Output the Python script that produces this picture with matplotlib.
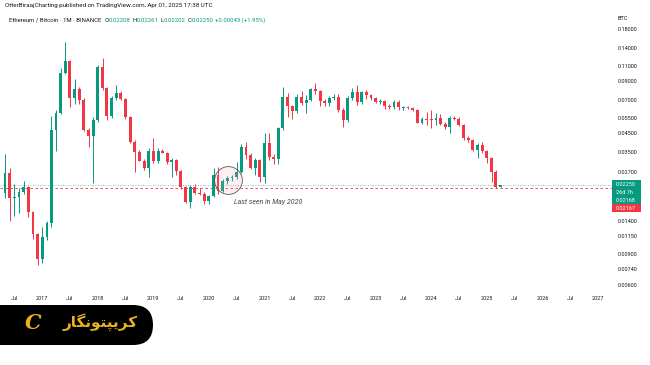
import matplotlib
matplotlib.use('Agg')
import matplotlib.pyplot as plt
import matplotlib.dates as mdates
from matplotlib.patches import FancyBboxPatch, Rectangle
import numpy as np
import pandas as pd

plt.rcParams['font.family'] = ['Roboto', 'DejaVu Sans']

# monthly ETH/BTC candles, May 2016 .. Apr 2025
months = pd.date_range('2016-05-01', periods=108, freq='MS')
opens = [.0203, .0267, .0190, .0193, .0206, .0220, .0158, .0118, .0085, .0114,
         .0137, .0470, .0590, .1008, .1178, .0723, .0811, .0701, .0470, .0436,
         .0537, .1092, .0819, .0567, .0720, .0772, .0710, .0559, .0403, .0352,
         .0313, .0284, .0357, .0313, .0357, .0348, .0307, .0316, .0273, .0221,
         .0181, .0220, .0203, .0202, .0184, .0196, .0259, .0210, .0240, .0247,
         .0251, .0270, .0374, .0337, .0283, .0316, .0253, .0394, .0330, .0319,
         .0481, .0727, .0647, .0608, .0727, .0676, .0701, .0808, .0790, .0695,
         .0671, .0717, .0728, .0614, .0537, .0723, .0777, .0680, .0777, .0749,
         .0717, .0685, .0692, .0650, .0636, .0685, .0632, .0636, .0630, .0616,
         .0518, .0542, .0546, .0538, .0550, .0510, .0492, .0554, .0548, .0503,
         .0425, .0412, .0361, .0385, .0356, .0323, .0268, .02208]
highs = [.0342, .0284, .0229, .0218, .0239, .0224, .0161, .0120, .0129, .0140,
         .0567, .0614, .1073, .1522, .1200, .0927, .0837, .0720, .0485, .0560,
         .1120, .1221, .0830, .0740, .0856, .0790, .0720, .0570, .0412, .0360,
         .0320, .0370, .0423, .0370, .0364, .0350, .0324, .0320, .0276, .0224,
         .0225, .0229, .0217, .0205, .0199, .0283, .0289, .0245, .0255, .0260,
         .0309, .0390, .0403, .0345, .0325, .0320, .0454, .0450, .0340, .0490,
         .0830, .0772, .0660, .0759, .0793, .0749, .0820, .0875, .0800, .0710,
         .0740, .0759, .0760, .0630, .0740, .0819, .0856, .0790, .0800, .0760,
         .0730, .0710, .0700, .0665, .0700, .0700, .0650, .0645, .0640, .0625,
         .0561, .0598, .0614, .0590, .0582, .0520, .0570, .0570, .0560, .0510,
         .0432, .0420, .0395, .0403, .0362, .0330, .0276, .02261]
lows = [.0190, .0141, .0150, .0156, .0200, .0148, .0110, .0078, .0080, .0109,
        .0130, .0356, .0580, .0985, .0641, .0665, .0665, .0462, .0377, .0233,
        .0525, .0800, .0537, .0550, .0700, .0700, .0548, .0395, .0270, .0310,
        .0278, .0252, .0305, .0305, .0345, .0299, .0253, .0258, .0215, .0178,
        .0166, .0200, .0198, .0176, .0176, .0192, .0200, .0205, .0228, .0240,
        .0245, .0265, .0320, .0280, .0258, .0237, .0232, .0315, .0300, .0299,
        .0470, .0561, .0542, .0592, .0660, .0592, .0690, .0760, .0647, .0650,
        .0650, .0700, .0600, .0492, .0525, .0700, .0660, .0665, .0710, .0705,
        .0670, .0665, .0620, .0625, .0625, .0610, .0615, .0620, .0608, .0515,
        .0507, .0503, .0481, .0503, .0500, .0478, .0450, .0535, .0495, .0410,
        .0400, .0355, .0325, .0345, .0303, .0237, .0218, .02202]
closes = [.0267, .0190, .0193, .0206, .0220, .0158, .0118, .0085, .0114, .0137,
          .0470, .0590, .1008, .1178, .0723, .0811, .0701, .0470, .0436, .0537,
          .1092, .0819, .0567, .0720, .0769, .0710, .0559, .0403, .0352, .0313,
          .0284, .0357, .0313, .0357, .0348, .0307, .0316, .0273, .0221, .0181,
          .0220, .0203, .0202, .0184, .0196, .0259, .0210, .0240, .0247, .0251,
          .0270, .0374, .0337, .0283, .0316, .0253, .0394, .0330, .0319, .0481,
          .0727, .0647, .0608, .0727, .0676, .0701, .0808, .0790, .0695, .0671,
          .0717, .0728, .0614, .0537, .0723, .0777, .0680, .0777, .0749, .0717,
          .0685, .0692, .0650, .0636, .0685, .0636, .0636, .0630, .0616, .0518,
          .0542, .0535, .0538, .0550, .0510, .0492, .0554, .0548, .0503, .0425,
          .0412, .0361, .0385, .0356, .0323, .0268, .02208, .02250]

last_price = 0.02250
line_price = 0.02167
price_ticks = [0.006, 0.0074, 0.009, 0.0115, 0.014, 0.027, 0.035, 0.045,
               0.055, 0.07, 0.09, 0.11, 0.14, 0.18]

UP = '#089981'
DOWN = '#f23645'
TXT = '#131722'

fig = plt.figure(figsize=(6.5, 3.65), dpi=100)
W, H = 650, 365
ax = fig.add_axes([0, 1 - 290 / H, 612 / W, (290 - 12) / H])

x = mdates.date2num(months)
o = np.array(opens); h = np.array(highs); l = np.array(lows); c = np.array(closes)
col = np.where(c >= o, UP, DOWN)
ax.vlines(x, l, h, colors=col, linewidth=0.7, zorder=2)
ax.bar(x, np.maximum(np.abs(c - o), c * 0.004), bottom=np.minimum(o, c),
       width=19, color=col, linewidth=0, zorder=3)

ax.set_yscale('log')
ax.set_ylim(0.005606, 0.2260)
ax.set_xlim(mdates.datestr2num('2016-03-29'), mdates.datestr2num('2027-04-03'))

ax.axhline(last_price, color=UP, linestyle=(0, (1, 2)), linewidth=0.6, alpha=0.7)
ax.axhline(line_price, color=DOWN, linestyle=(0, (3, 3)), linewidth=0.6)

# annotation: circle around May 2020
ax.plot(mdates.datestr2num('2020-05-05'), 0.02435, 'o', markersize=20,
        markerfacecolor=(0.95, 0.6, 0.65, 0.15), markeredgecolor='#555555',
        markeredgewidth=0.6, zorder=4)
ax.text(mdates.datestr2num('2020-06-14'), 0.01805, 'Last seen in May 2020',
        fontsize=5, style='italic', color='#434651', va='center', ha='left')

ax.yaxis.tick_right()
ax.set_yticks(price_ticks)
ax.set_yticklabels(['%.5f' % v for v in price_ticks])
ax.yaxis.set_minor_locator(matplotlib.ticker.NullLocator())
ax.tick_params(axis='y', length=0, pad=4, labelsize=4, labelcolor=TXT)

xt = pd.date_range('2016-07-01', '2027-01-01', freq='6MS')
ax.set_xticks(mdates.date2num(xt))
ax.set_xticklabels(['Jul' if d.month == 7 else str(d.year) for d in xt])
ax.tick_params(axis='x', length=0, pad=4, labelsize=4, labelcolor=TXT)
for s in ax.spines.values():
    s.set_visible(False)

# overlay in pixel coordinates for header, price boxes and watermark
ov = fig.add_axes([0, 0, 1, 1], zorder=5)
ov.set_xlim(0, W); ov.set_ylim(H, 0); ov.axis('off'); ov.patch.set_alpha(0)

ov.text(5, 6, 'OtterBiraajCharting published on TradingView.com, Apr 01, 2025 17:38 UTC',
        fontsize=4.5, color=TXT, va='center')
fig.canvas.draw()
r = fig.canvas.get_renderer()
parts = [('Ethereum / Bitcoin \u00b7 1M \u00b7 BINANCE', TXT, 3),
         ('O', TXT, 0), ('0.02208', UP, 2), ('H', TXT, 0), ('0.02261', UP, 2),
         ('L', TXT, 0), ('0.02202', UP, 2), ('C', TXT, 0), ('0.02250', UP, 2),
         ('+0.00043 (+1.95%)', UP, 0)]
px = 9
for s, cc, gap in parts:
    t = ov.text(px, 20, s, fontsize=4.3, color=cc, va='center')
    px += t.get_window_extent(r).width + gap

ov.text(617, 19, 'BTC', fontsize=4, color=TXT, va='center')
ov.add_patch(Rectangle((612, 180), 29, 24, color=UP, linewidth=0))
ov.add_patch(Rectangle((612, 204), 29, 8, color=DOWN, linewidth=0))
ov.text(616, 184, '%.5f' % last_price, fontsize=4, color='white', va='center')
ov.text(616, 192, '26d 7h', fontsize=4, color='white', va='center')
ov.text(616, 200, '0.02168', fontsize=4, color='white', va='center')
ov.text(616, 208, '%.5f' % line_price, fontsize=4, color='white', va='center')

# watermark
ov.add_patch(FancyBboxPatch((-40, 305), 193, 40,
                            boxstyle='round,pad=0,rounding_size=20',
                            facecolor='black', edgecolor='none'))
ov.text(33, 323, 'C', fontsize=15, color='#e8b21e', style='italic',
        fontweight='bold', family='DejaVu Serif', ha='center', va='center')
ov.text(100, 322, '\ufead\ufe8e\ufb95\ufee7\ufeee\ufe98\ufb59\ufbfe\ufeae\ufb90',
        fontsize=11, color='#e8b21e', fontweight='bold', family=['DejaVu Sans'],
        ha='center', va='center')

fig.savefig('out.png', dpi=100)
